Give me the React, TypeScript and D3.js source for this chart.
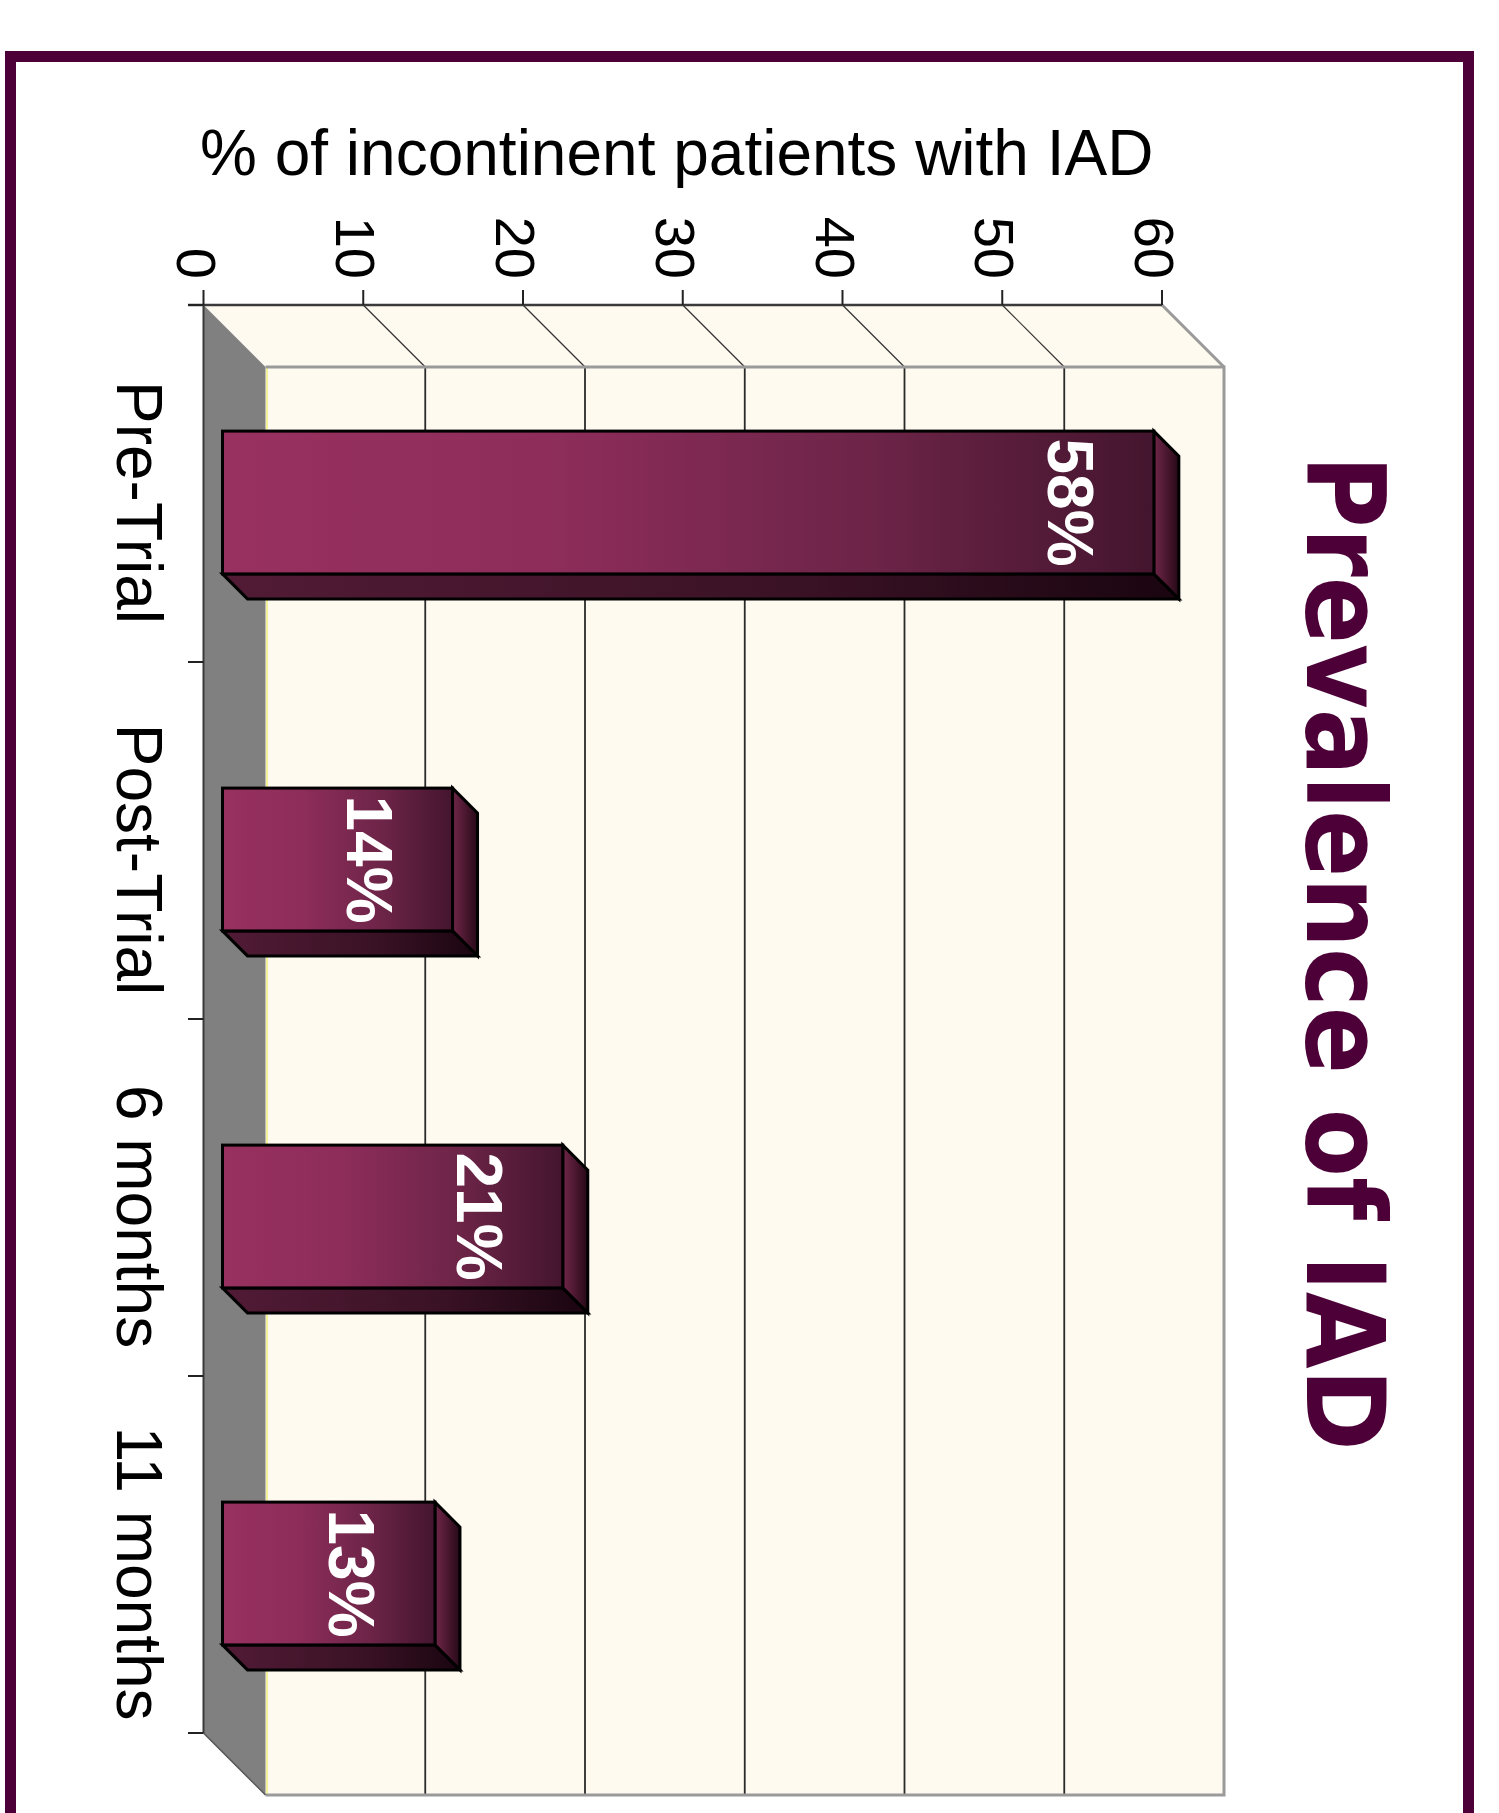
import React from "react";
import * as d3 from "d3";

const categories = ["Pre-Trial", "Post-Trial", "6 months", "11 months"];
const values = [58.3, 14.4, 21.3, 13.3];
const valueLabels = ["58%", "14%", "21%", "13%"];
const valueTicks = [0, 10, 20, 30, 40, 50, 60];
const chartTitle = "Prevalence of IAD";
const axisTitle = "% of incontinent patients with IAD";

const W = 1499;
const H = 1813;
const DEPTH = 62; // 3D depth of the plot walls
const BAR_OFF = 19; // front offset of the bars inside the depth
const BAR_DEPTH = 25;

export default function App() {
  const x = d3.scaleLinear().domain([0, 60]).range([203.5, 1162]);
  const y = d3.scaleBand<string>().domain(categories).range([305, 1733]).padding(0);
  const bw = y.bandwidth();
  const barH = bw * 0.4;
  const barPad = (bw - barH) / 2;
  const top = y.range()[0];
  const bottom = y.range()[1];
  const x0 = x(0);
  const x60 = x(60);

  return (
    <svg
      width={W}
      height={H}
      viewBox={`0 0 ${W} ${H}`}
      style={{ position: "absolute", left: 0, top: 0, background: "#ffffff" }}
    >
      <defs>
        <linearGradient id="gFront" x1="0" x2="1" y1="0" y2="0">
          <stop offset="0" stopColor="#98315f" />
          <stop offset="0.35" stopColor="#8e2d5a" />
          <stop offset="0.7" stopColor="#6c2447" />
          <stop offset="1" stopColor="#44152e" />
        </linearGradient>
        <linearGradient id="gBottom" x1="0" x2="1" y1="0" y2="0">
          <stop offset="0" stopColor="#521b36" />
          <stop offset="0.6" stopColor="#3a1225" />
          <stop offset="1" stopColor="#1a0510" />
        </linearGradient>
        <linearGradient id="gEnd" x1="0" x2="1" y1="0" y2="0">
          <stop offset="0" stopColor="#712649" />
          <stop offset="1" stopColor="#260917" />
        </linearGradient>
      </defs>

      {/* frame */}
      <rect x={10.5} y={56.5} width={1458} height={1900} fill="none" stroke="#4d0038" strokeWidth={11} />

      {/* back wall */}
      <rect x={x0 + DEPTH} y={top + DEPTH} width={x60 - x0} height={bottom - top} fill="#fffaef" />
      {/* top wall */}
      <polygon
        points={`${x0},${top} ${x60},${top} ${x60 + DEPTH},${top + DEPTH} ${x0 + DEPTH},${top + DEPTH}`}
        fill="#fffaef"
      />
      {/* left (gray) wall */}
      <polygon
        points={`${x0},${top} ${x0 + DEPTH},${top + DEPTH} ${x0 + DEPTH},${bottom + DEPTH} ${x0},${bottom}`}
        fill="#808080"
      />
      <line x1={x0 + DEPTH + 1.5} x2={x0 + DEPTH + 1.5} y1={top + DEPTH} y2={bottom + DEPTH} stroke="#f4f39a" strokeWidth={2} />

      {/* gridlines */}
      {valueTicks.slice(1, -1).map((t) => (
        <g key={"g" + t}>
          <line x1={x(t)} y1={top} x2={x(t) + DEPTH} y2={top + DEPTH} stroke="#333" strokeWidth={1.2} />
          <line x1={x(t) + DEPTH} y1={top + DEPTH} x2={x(t) + DEPTH} y2={bottom + DEPTH} stroke="#2a2a2a" strokeWidth={1.8} />
        </g>
      ))}

      {/* wall outlines */}
      <polyline
        points={`${x0 + DEPTH},${top + DEPTH} ${x60 + DEPTH},${top + DEPTH} ${x60 + DEPTH},${bottom + DEPTH} ${x0 + DEPTH},${bottom + DEPTH}`}
        fill="none"
        stroke="#9a9a9a"
        strokeWidth={3}
      />
      <line x1={x60} y1={top} x2={x60 + DEPTH} y2={top + DEPTH} stroke="#9a9a9a" strokeWidth={3} />
      <line x1={x0} y1={bottom} x2={x0 + DEPTH} y2={bottom + DEPTH} stroke="#555" strokeWidth={1.5} />

      {/* axes */}
      <line x1={188} y1={top} x2={x60} y2={top} stroke="#3a3a3a" strokeWidth={2.5} />
      <line x1={x0} y1={top} x2={x0} y2={bottom} stroke="#3a3a3a" strokeWidth={2} />
      {valueTicks.map((t) => (
        <line key={"vt" + t} x1={x(t)} x2={x(t)} y1={290} y2={top} stroke="#222" strokeWidth={2} />
      ))}
      {[...categories.map((c) => y(c) as number), bottom].map((yy, i) => (
        <line key={"ct" + i} x1={188} x2={x0} y1={yy} y2={yy} stroke="#222" strokeWidth={2} />
      ))}

      {/* value tick labels */}
      {valueTicks.map((t) => (
        <text
          key={"vl" + t}
          transform={`translate(${x(t) - 27},279) rotate(90)`}
          textAnchor="end"
          fontFamily="'Liberation Sans', Arial, sans-serif"
          fontSize={56}
          fill="#000"
        >
          {t}
        </text>
      ))}

      {/* axis title */}
      <text x={200} y={175} fontFamily="'Liberation Sans', Arial, sans-serif" fontSize={64} fill="#000">
        {axisTitle}
      </text>

      {/* bars */}
      {categories.map((c, i) => {
        const v = values[i];
        const fx0 = x(0) + BAR_OFF;
        const fx1 = x(v) + BAR_OFF;
        const fy0 = (y(c) as number) + barPad + BAR_OFF;
        const fy1 = fy0 + barH;
        const d = BAR_DEPTH;
        return (
          <g key={"bar" + c} stroke="#000" strokeWidth={3} strokeLinejoin="miter">
            <polygon
              points={`${fx0},${fy1} ${fx1},${fy1} ${fx1 + d},${fy1 + d} ${fx0 + d},${fy1 + d}`}
              fill="url(#gBottom)"
            />
            <polygon
              points={`${fx1},${fy0} ${fx1 + d},${fy0 + d} ${fx1 + d},${fy1 + d} ${fx1},${fy1}`}
              fill="url(#gEnd)"
            />
            <rect x={fx0} y={fy0} width={fx1 - fx0} height={barH} fill="url(#gFront)" />
          </g>
        );
      })}

      {/* bar value labels */}
      {categories.map((c, i) => {
        const v = values[i];
        const fx1 = x(v) + BAR_OFF;
        const cy = (y(c) as number) + barPad + BAR_OFF + barH / 2;
        return (
          <text
            key={"bl" + c}
            transform={`translate(${fx1 - 106},${cy}) rotate(90)`}
            textAnchor="middle"
            fontFamily="'Liberation Sans', Arial, sans-serif"
            fontWeight="bold"
            fontSize={64}
            fill="#ffffff"
          >
            {valueLabels[i]}
          </text>
        );
      })}

      {/* category labels */}
      {categories.map((c) => {
        const cy = (y(c) as number) + barPad + BAR_OFF + barH / 2;
        return (
          <text
            key={"cl" + c}
            transform={`translate(117,${cy}) rotate(90)`}
            textAnchor="middle"
            fontFamily="'Liberation Sans', Arial, sans-serif"
            fontSize={64}
            fill="#000"
          >
            {c}
          </text>
        );
      })}

      {/* chart title */}
      <text
        transform={`translate(1307,455) rotate(90)`}
        textAnchor="start"
        fontFamily="'DejaVu Sans', Verdana, sans-serif"
        fontWeight="bold"
        fontSize={108}
        textLength={996}
        lengthAdjust="spacingAndGlyphs"
        fill="#4d0038"
      >
        {chartTitle}
      </text>
    </svg>
  );
}
